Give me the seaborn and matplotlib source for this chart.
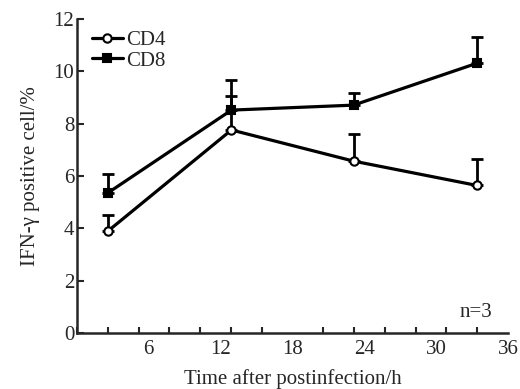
import pandas as pd
import matplotlib.pyplot as plt
import seaborn as sns
import numpy as np

# time points (h) as they sit on the axis
time_h = [2.6, 12.9, 23.1, 33.4]
cd4_mean = [3.90, 7.76, 6.57, 5.64]
cd4_sd = [0.61, 1.30, 1.02, 1.00]
cd8_mean = [5.36, 8.52, 8.71, 10.31]
cd8_sd = [0.70, 1.15, 0.45, 0.99]

df = pd.DataFrame({
    'time': time_h * 2,
    'value': cd4_mean + cd8_mean,
    'sd': cd4_sd + cd8_sd,
    'group': ['CD4'] * 4 + ['CD8'] * 4,
})

sns.set_style('ticks')
plt.rcParams['font.family'] = ['Liberation Serif', 'DejaVu Serif']

fig = plt.figure(figsize=(5.2, 3.89), dpi=100)
ax = fig.add_axes([0.148, 0.144, 0.829, 0.807])

markers = {'CD4': 'o', 'CD8': 's'}
faces = {'CD4': 'white', 'CD8': 'black'}
for g in ['CD4', 'CD8']:
    d = df[df['group'] == g]
    ax.errorbar(d['time'], d['value'], yerr=[np.zeros(len(d)), d['sd']],
                fmt='none', ecolor='black', elinewidth=2, capsize=4.5,
                capthick=2, zorder=2)
    sns.lineplot(data=d, x='time', y='value', ax=ax, color='black',
                 marker=markers[g], markersize=6 if g == 'CD4' else 5.5,
                 markerfacecolor=faces[g], markeredgecolor='black',
                 markeredgewidth=1.5, linewidth=2.3, label=g, zorder=3)

ax.set_xlim(0, 36)
ax.set_ylim(0, 12)
ax.set_xticks([6, 12, 18, 24, 30, 36])
ax.set_xticks(np.linspace(0, 36, 15), minor=True)
ax.tick_params(axis='x', which='major', length=0, labelsize=15, pad=5)
ax.tick_params(axis='x', which='minor', direction='in', length=4, width=1.5)
ax.set_yticks(range(0, 13, 2))
ax.tick_params(axis='y', direction='in', length=5, width=1.5, labelsize=15, pad=2)
for s in ['top', 'right']:
    ax.spines[s].set_visible(False)
for s in ['left', 'bottom']:
    ax.spines[s].set_linewidth(1.8)

ax.set_xlabel('Time after postinfection/h', fontsize=15, labelpad=7)
ax.set_ylabel('IFN-γ positive cell/%', fontsize=15, labelpad=10)
ax.text(33.3, 0.8, 'n=3', fontsize=15, ha='center', va='center')

leg = ax.legend(loc='upper left', frameon=False, fontsize=15, handlelength=1.5,
                handletextpad=0.15, labelspacing=0.05, borderaxespad=0.3,
                bbox_to_anchor=(0.0, 1.01))

fig.savefig('out.png', dpi=100)
